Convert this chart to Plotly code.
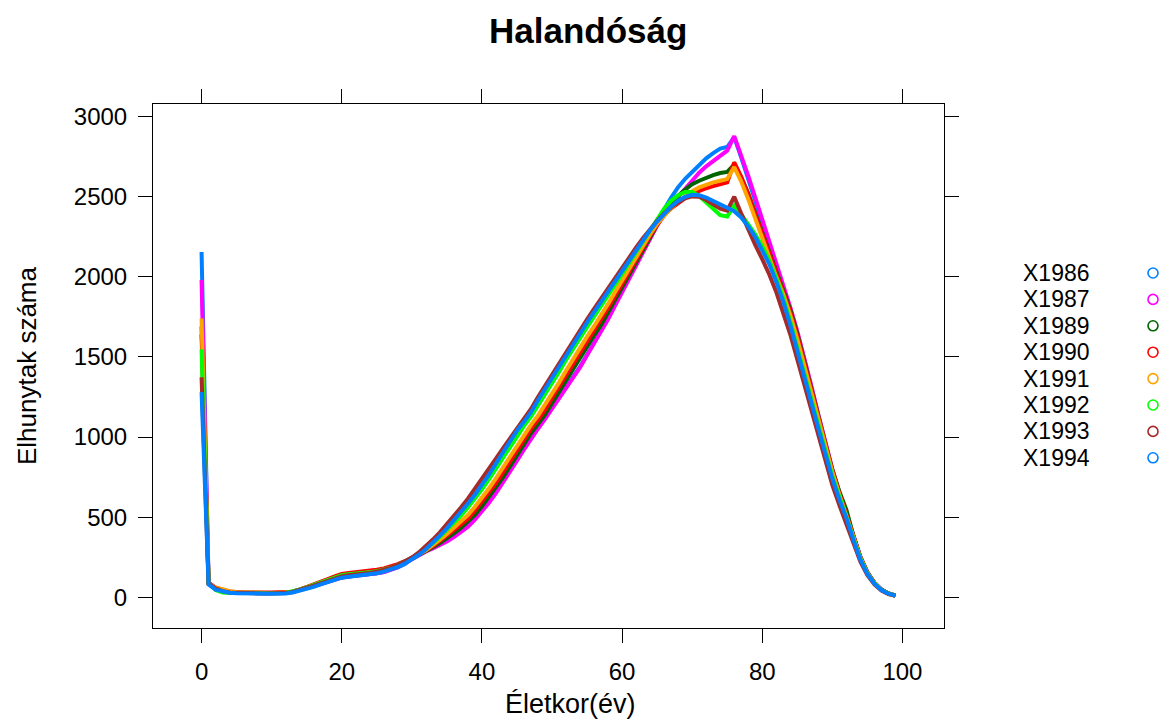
import plotly.graph_objects as go

# ---------------- data (ages 0..99) ----------------
ages = list(range(100))

series_names = ["X1986", "X1987", "X1989", "X1990", "X1991", "X1992", "X1993", "X1994"]

colors = {
    "X1986": "#0080ff", "X1987": "#ff00ff", "X1989": "#006400", "X1990": "#ff0000",
    "X1991": "#ffa500", "X1992": "#00ff00", "X1993": "#a52a2a", "X1994": "#0080ff",
}

x1986 = [2155,
    92, 60, 42, 34, 30, 28, 27, 26, 26, 26, 26, 28, 35, 46, 58, 70, 84, 98, 112, 124, 130, 134, 138, 143, 150, 158, 170, 186, 208,
    241, 265, 290, 309, 329, 352, 379, 409, 444, 489,
    539, 594, 654, 719, 786, 856, 926, 994, 1056, 1116,
    1182, 1244, 1304, 1369, 1439, 1514, 1589, 1659, 1739, 1824,
    1909, 1994, 2079, 2164, 2252, 2345, 2420, 2495, 2560, 2612,
    2655, 2700, 2740, 2772, 2800, 2810, 2872, 2745, 2615, 2480,
    2340, 2200, 2060, 1930, 1795, 1648, 1483, 1308, 1130, 956,
    793, 650, 520, 380, 249, 154, 90, 48, 24, 11]

x1987 = [1981,
    90, 58, 40, 33, 29, 27, 26, 26, 26, 26, 26, 28, 34, 45, 57, 69, 83, 97, 111, 123, 129, 133, 137, 142, 149, 158, 170, 188, 212,
    238, 262, 286, 305, 325, 348, 375, 405, 440, 485,
    535, 590, 650, 715, 782, 852, 922, 990, 1052, 1112,
    1178, 1240, 1300, 1365, 1435, 1510, 1585, 1655, 1735, 1820,
    1905, 1990, 2075, 2160, 2242, 2320, 2385, 2445, 2500, 2550,
    2600, 2650, 2690, 2725, 2757, 2788, 2878, 2760, 2630, 2495,
    2360, 2215, 2075, 1945, 1810, 1660, 1495, 1320, 1140, 965,
    800, 655, 525, 385, 252, 156, 91, 49, 24, 11]

x1989 = [1640,
    86, 56, 42, 34, 30, 28, 27, 27, 27, 27, 27, 29, 35, 47, 60, 74, 89, 104, 119, 132, 138, 142, 146, 151, 158, 167, 180, 198, 218,
    240, 266, 289, 312, 338, 366, 398, 432, 470, 515,
    568, 626, 685, 749, 817, 887, 957, 1024, 1081, 1140,
    1211, 1283, 1349, 1421, 1496, 1568, 1634, 1699, 1778, 1858,
    1937, 2017, 2097, 2174, 2250, 2325, 2395, 2455, 2505, 2545,
    2578, 2600, 2620, 2635, 2648, 2655, 2700, 2620, 2520, 2400,
    2290, 2165, 2040, 1925, 1795, 1645, 1480, 1305, 1130, 958,
    795, 660, 545, 385, 250, 155, 90, 48, 24, 11]

x1990 = [1690,
    85, 60, 45, 36, 32, 30, 29, 29, 29, 29, 29, 31, 35, 48, 63, 80, 97, 114, 130, 145, 152, 156, 160, 165, 172, 180, 192, 207, 225,
    245, 268, 291, 320, 350, 384, 418, 453, 490, 541,
    596, 652, 713, 779, 849, 919, 988, 1051, 1107, 1170,
    1244, 1313, 1380, 1455, 1529, 1598, 1663, 1728, 1805, 1881,
    1958, 2035, 2111, 2186, 2258, 2325, 2385, 2428, 2462, 2492,
    2518, 2538, 2553, 2566, 2578, 2590, 2715, 2625, 2515, 2390,
    2270, 2145, 2020, 1905, 1780, 1630, 1465, 1290, 1120, 950,
    790, 648, 518, 378, 247, 152, 89, 47, 23, 10]

x1991 = [1741,
    84, 62, 48, 38, 33, 30, 28, 27, 27, 27, 27, 29, 34, 46, 60, 75, 90, 106, 121, 134, 140, 144, 148, 153, 160, 168, 180, 196, 217,
    240, 268, 293, 324, 359, 395, 432, 472, 513, 565,
    620, 679, 742, 810, 880, 950, 1018, 1076, 1134, 1200,
    1268, 1340, 1414, 1489, 1561, 1627, 1692, 1757, 1831, 1905,
    1978, 2052, 2125, 2197, 2266, 2330, 2385, 2430, 2470, 2505,
    2535, 2558, 2575, 2590, 2600, 2610, 2685, 2595, 2485, 2360,
    2240, 2120, 2000, 1890, 1760, 1610, 1445, 1275, 1105, 940,
    780, 640, 512, 372, 244, 150, 88, 46, 23, 10]

x1992 = [1548,
    88, 45, 30, 27, 26, 25, 24, 24, 24, 24, 25, 28, 36, 48, 62, 78, 94, 110, 125, 138, 144, 147, 151, 156, 163, 172, 184, 200, 220,
    245, 272, 303, 338, 378, 420, 464, 510, 560, 615,
    673, 736, 803, 873, 943, 1011, 1070, 1128, 1196, 1268,
    1336, 1406, 1481, 1553, 1621, 1686, 1751, 1816, 1883, 1952,
    2019, 2087, 2154, 2222, 2295, 2365, 2425, 2475, 2510, 2530,
    2530, 2505, 2465, 2420, 2385, 2377, 2444, 2390, 2330, 2265,
    2190, 2100, 1990, 1865, 1720, 1565, 1400, 1235, 1075, 912,
    755, 625, 505, 368, 240, 148, 87, 46, 22, 10]

x1993 = [1373,
    85, 55, 38, 30, 27, 25, 24, 24, 24, 24, 24, 26, 33, 44, 57, 72, 87, 102, 117, 130, 137, 141, 146, 152, 160, 170, 183, 200, 222,
    248, 280, 318, 360, 405, 455, 505, 560, 615, 675,
    735, 800, 865, 930, 990, 1050, 1110, 1175, 1250, 1320,
    1390, 1462, 1535, 1605, 1670, 1735, 1800, 1865, 1930, 1995,
    2060, 2122, 2183, 2243, 2300, 2350, 2395, 2435, 2465, 2490,
    2502, 2500, 2480, 2450, 2425, 2413, 2500, 2395, 2290, 2200,
    2110, 2015, 1905, 1780, 1640, 1485, 1325, 1160, 1000, 845,
    700, 575, 465, 340, 222, 138, 80, 42, 20, 9]

x1994 = [1280,
    80, 48, 35, 28, 25, 23, 22, 22, 22, 22, 22, 24, 30, 40, 52, 65, 80, 95, 110, 122, 128, 132, 137, 143, 150, 160, 173, 190, 210,
    235, 265, 300, 340, 385, 430, 480, 530, 585, 640,
    700, 765, 835, 905, 975, 1040, 1095, 1155, 1230, 1300,
    1365, 1440, 1515, 1585, 1650, 1715, 1780, 1845, 1910, 1975,
    2040, 2105, 2168, 2230, 2292, 2345, 2395, 2440, 2475, 2500,
    2512, 2510, 2495, 2475, 2455, 2435, 2410, 2370, 2315, 2250,
    2170, 2080, 1970, 1845, 1700, 1545, 1380, 1215, 1055, 895,
    740, 610, 495, 360, 235, 145, 85, 45, 22, 10]

values = {
    "X1986": x1986, "X1987": x1987, "X1989": x1989, "X1990": x1990,
    "X1991": x1991, "X1992": x1992, "X1993": x1993, "X1994": x1994,
}

x_ticks = [0, 20, 40, 60, 80, 100]
y_ticks = [0, 500, 1000, 1500, 2000, 2500, 3000]

title_text = "Halandóság"
x_label = "Életkor(év)"
y_label = "Elhunytak száma"

for k, v in values.items():
    assert len(v) == 100, (k, len(v))

# ---------------- layout geometry ----------------
W, H = 1162, 722
L, R, T, B = 153, 218, 104, 94
PW, PH = W - L - R, H - T - B
FONT = "Liberation Sans, Arial, Helvetica, sans-serif"


def px2x(px):
    return (px - L) / PW


def py2y(py):
    return 1 - (py - T) / PH


# lattice-like 7% padding of the data range
all_y = [y for v in values.values() for y in v]
ymin, ymax = min(all_y), max(all_y)
xmin, xmax = min(ages), max(ages)
xpad = 0.07 * (xmax - xmin)
ypad = 0.07 * (ymax - ymin)

fig = go.Figure()
for name in series_names:
    fig.add_trace(go.Scatter(
        x=ages, y=values[name], mode="lines", name=name,
        line=dict(color=colors[name], width=4),
        showlegend=False, hoverinfo="skip",
    ))

annotations = []
shapes = []

# title
annotations.append(dict(
    text=title_text, xref="paper", yref="paper", x=px2x(588), y=py2y(30),
    xanchor="center", yanchor="middle", showarrow=False,
    font=dict(family=FONT, size=35, color="black", weight="bold"),
))
# axis titles
annotations.append(dict(
    text=x_label, xref="paper", yref="paper", x=px2x(570), y=py2y(704),
    xanchor="center", yanchor="middle", showarrow=False,
    font=dict(family=FONT, size=27, color="black"),
))
annotations.append(dict(
    text=y_label, xref="paper", yref="paper", x=px2x(27), y=py2y(366),
    xanchor="center", yanchor="middle", showarrow=False, textangle=-90,
    font=dict(family=FONT, size=26, color="black"),
))

# manual legend: text left, open circle right
row0, drow = 273, 26.4
for i, name in enumerate(series_names):
    yc = row0 + i * drow
    annotations.append(dict(
        text=name, xref="paper", yref="paper", x=px2x(1021), y=py2y(yc),
        xanchor="left", yanchor="middle", showarrow=False,
        font=dict(family=FONT, size=23, color="black"),
    ))
    shapes.append(dict(
        type="circle", xref="paper", yref="paper",
        x0=px2x(1153 - 5), x1=px2x(1153 + 5), y0=py2y(yc + 5), y1=py2y(yc - 5),
        line=dict(color=colors[name], width=1.6), fillcolor="rgba(0,0,0,0)",
    ))

axis_common = dict(
    showgrid=False, zeroline=False, showline=True, linecolor="black", linewidth=1,
    mirror="ticks", ticks="outside", ticklen=14, tickwidth=1, tickcolor="black",
    tickfont=dict(family=FONT, size=24, color="black"),
)

fig.update_layout(
    width=W, height=H,
    margin=dict(l=L, r=R, t=T, b=B, pad=0),
    paper_bgcolor="white", plot_bgcolor="white",
    showlegend=False,
    xaxis=dict(range=[xmin - xpad, xmax + xpad], tickvals=x_ticks,
               ticktext=[str(t) for t in x_ticks], ticklabelstandoff=8, **axis_common),
    yaxis=dict(range=[ymin - ypad, ymax + ypad], tickvals=y_ticks,
               ticktext=[str(t) for t in y_ticks], ticklabelstandoff=6, **axis_common),
    annotations=annotations,
    shapes=shapes,
)

fig.write_html("out.html")
